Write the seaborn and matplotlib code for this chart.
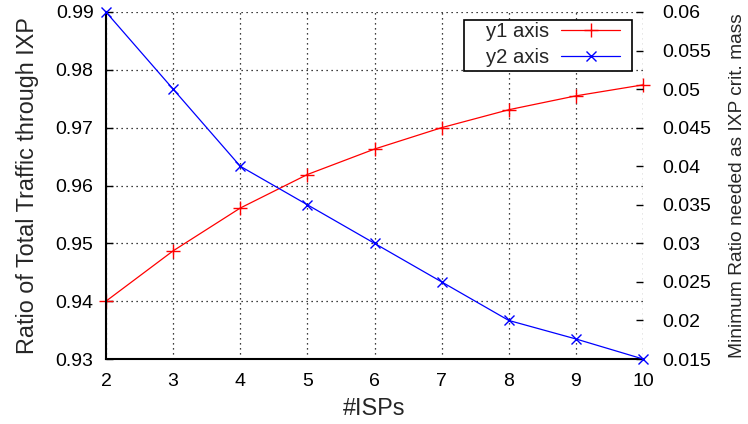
import pandas as pd
import matplotlib
matplotlib.use("Agg")
import matplotlib.pyplot as plt
from matplotlib.patches import Rectangle
import seaborn as sns

# data
isps = [2, 3, 4, 5, 6, 7, 8, 9, 10]
traffic_ratio = [0.940, 0.9487, 0.9561, 0.9619, 0.9663, 0.9700, 0.9731, 0.9755, 0.9774]
min_ratio = [0.060, 0.050, 0.040, 0.035, 0.030, 0.025, 0.020, 0.0176, 0.015]

y1_ticks = [0.93, 0.94, 0.95, 0.96, 0.97, 0.98, 0.99]
y2_ticks = [0.015, 0.02, 0.025, 0.03, 0.035, 0.04, 0.045, 0.05, 0.055, 0.06]

sns.set_style("white")
plt.rcParams['font.family'] = ['Liberation Sans', 'DejaVu Sans']

df = pd.DataFrame({"isps": isps, "y1": traffic_ratio, "y2": min_ratio})

W, H = 748, 424
fig, ax = plt.subplots(figsize=(W / 100, H / 100), dpi=100)
fig.subplots_adjust(left=106/W, right=643/W, bottom=1 - 359/H, top=1 - 12/H)
ax2 = ax.twinx()

sns.lineplot(data=df, x="isps", y="y1", ax=ax, color="red", marker="+",
             markersize=10, markeredgewidth=1, markeredgecolor="red",
             linewidth=0.9, label="y1 axis", clip_on=False, legend=False)
sns.lineplot(data=df, x="isps", y="y2", ax=ax2, color="blue", marker="x",
             markersize=7.5, markeredgewidth=1, markeredgecolor="blue",
             linewidth=0.9, label="y2 axis", clip_on=False, legend=False)

ax.set_xlim(2, 10)
ax.set_ylim(0.93, 0.99)
ax2.set_ylim(0.015, 0.06)
ax.set_xticks(isps)
ax.set_yticks(y1_ticks)
ax.set_yticklabels([f"{v:g}" for v in y1_ticks])
ax2.set_yticks(y2_ticks)
ax2.set_yticklabels([f"{v:g}" for v in y2_ticks])

ax.grid(True, color="black", linestyle=(0, (1, 3)), linewidth=0.9)
ax.set_axisbelow(True)

for a in (ax, ax2):
    for s in a.spines.values():
        s.set_visible(False)
for side in ("left", "bottom"):
    ax.spines[side].set_visible(True)
    ax.spines[side].set_linewidth(1.5)
    ax.spines[side].set_color("black")

ax.tick_params(axis="y", direction="in", length=5, width=1, colors="black", labelsize=14, pad=9)
ax.tick_params(axis="x", direction="in", length=5, width=1, colors="black", labelsize=14, pad=10)
ax2.tick_params(direction="in", length=5, width=1, colors="black", labelsize=14, pad=14)

ax.set_xlabel("#ISPs", fontsize=16.8, labelpad=5)
ax.set_ylabel("Ratio of Total Traffic through IXP", fontsize=16.8, labelpad=12)
ax2.set_ylabel("Minimum Ratio needed as IXP crit. mass", fontsize=13.75, labelpad=13)

# legend box, gnuplot style (text right, sample line after)
box = Rectangle((464 / W, 1 - 71 / H), 168 / W, 51 / H, transform=fig.transFigure,
                facecolor="white", edgecolor="black", linewidth=1.2, zorder=4, clip_on=False)
ax2.add_patch(box)

h1, l1 = ax.get_legend_handles_labels()
h2, l2 = ax2.get_legend_handles_labels()
leg = ax2.legend(h1 + h2, l1 + l2, loc="upper right", bbox_to_anchor=(620 / W, 1 - 22 / H),
                 bbox_transform=fig.transFigure, frameon=False,
                 markerfirst=False, fontsize=14.6, handlelength=2.9, borderpad=0,
                 labelspacing=0.33, handletextpad=0.6, borderaxespad=0)
leg.set_zorder(5)

plt.savefig("out.png", dpi=100)
plt.close()
